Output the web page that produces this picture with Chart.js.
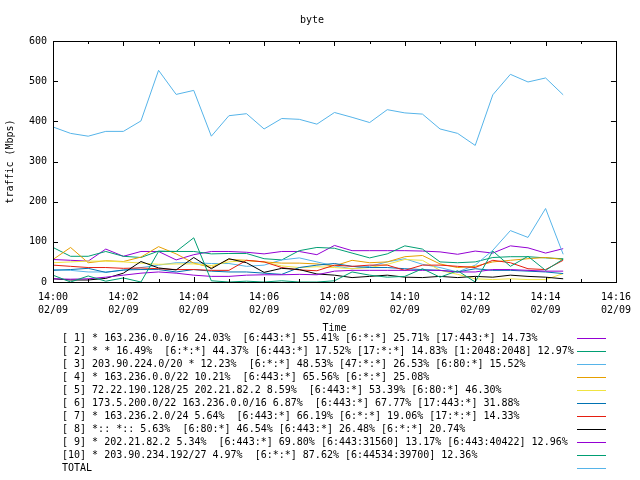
<!DOCTYPE html>
<html>
<head>
<meta charset="utf-8">
<script src="https://cdn.jsdelivr.net/npm/chart.js@4/dist/chart.umd.min.js"></script>
<style>
  html, body { margin: 0; padding: 0; background: #fff; }
</style>
</head>
<body>
<canvas id="chart" width="640" height="480"></canvas>
<script>
// sample times (every 30 s)
const times = ['14:00:00', '14:00:30', '14:01:00', '14:01:30', '14:02:00', '14:02:30',
  '14:03:00', '14:03:30', '14:04:00', '14:04:30', '14:05:00', '14:05:30',
  '14:06:00', '14:06:30', '14:07:00', '14:07:30', '14:08:00', '14:08:30',
  '14:09:00', '14:09:30', '14:10:00', '14:10:30', '14:11:00', '14:11:30',
  '14:12:00', '14:12:30', '14:13:00', '14:13:30', '14:14:00', '14:14:30'];

// traffic in Mbps, one array per series
const s1 = [56, 54, 52, 82, 64, 76, 76, 55, 68, 76, 76, 74, 70, 76, 76, 68, 91, 78, 78, 78, 78, 77, 75, 69, 77, 72, 90, 85, 72, 83];
const s2 = [86, 64, 64, 76, 64, 61, 77, 76, 76, 70, 71, 71, 58, 55, 78, 86, 84, 72, 60, 70, 90, 82, 50, 48, 50, 61, 63, 63, 60, 58];
const s3 = [31, 29, 25, 25, 29, 36, 42, 48, 48, 46, 46, 39, 42, 55, 60, 50, 40, 33, 39, 50, 58, 44, 36, 25, 42, 79, 128, 111, 183, 69];
const s4 = [56, 86, 48, 53, 51, 62, 88, 70, 47, 36, 56, 54, 50, 47, 47, 45, 40, 54, 48, 50, 63, 66, 45, 36, 39, 50, 54, 58, 61, 56];
const s5 = [48, 50, 52, 52, 50, 47, 44, 45, 45, 41, 50, 53, 50, 40, 36, 38, 36, 33, 36, 44, 56, 54, 29, 19, 8, 6, 8, 6, 6, 21];
const s6 = [29, 31, 34, 24, 30, 31, 31, 25, 31, 27, 25, 25, 22, 19, 36, 42, 46, 39, 36, 36, 33, 31, 29, 25, 33, 29, 29, 27, 25, 21];
const s7 = [42, 39, 36, 36, 34, 35, 33, 31, 31, 29, 29, 54, 50, 36, 30, 28, 42, 39, 42, 42, 29, 42, 42, 39, 36, 54, 48, 33, 31, 54];
const s8 = [8, 5, 5, 9, 22, 51, 35, 30, 61, 33, 58, 48, 24, 34, 31, 20, 17, 11, 14, 17, 12, 11, 14, 11, 14, 12, 17, 14, 12, 8];
const s9 = [8, 7, 8, 12, 17, 22, 25, 22, 17, 14, 14, 17, 18, 18, 19, 18, 27, 29, 29, 29, 29, 29, 29, 25, 25, 31, 31, 29, 27, 27];
const s10 = [17, 0, 15, 2, 10, 0, 76, 76, 110, 3, 0, 2, 0, 3, 0, 0, 3, 25, 17, 12, 14, 33, 12, 28, 0, 77, 39, 64, 29, 57];
const total = [386, 370, 363, 375, 375, 401, 527, 467, 477, 363, 414, 419, 381, 407, 405, 393, 422, 410, 397, 429, 421, 418, 381, 370, 340, 466, 517, 498, 508, 466];

const seriesLabels = [
  '[ 1] * 163.236.0.0/16 24.03%  [6:443:*] 55.41% [6:*:*] 25.71% [17:443:*] 14.73%',
  '[ 2] * * 16.49%  [6:*:*] 44.37% [6:443:*] 17.52% [17:*:*] 14.83% [1:2048:2048] 12.97%',
  '[ 3] 203.90.224.0/20 * 12.23%  [6:*:*] 48.53% [47:*:*] 26.53% [6:80:*] 15.52%',
  '[ 4] * 163.236.0.0/22 10.21%  [6:443:*] 65.56% [6:*:*] 25.08%',
  '[ 5] 72.22.190.128/25 202.21.82.2 8.59%  [6:443:*] 53.39% [6:80:*] 46.30%',
  '[ 6] 173.5.200.0/22 163.236.0.0/16 6.87%  [6:443:*] 67.77% [17:443:*] 31.88%',
  '[ 7] * 163.236.2.0/24 5.64%  [6:443:*] 66.19% [6:*:*] 19.06% [17:*:*] 14.33%',
  '[ 8] *:: *:: 5.63%  [6:80:*] 46.54% [6:443:*] 26.48% [6:*:*] 20.74%',
  '[ 9] * 202.21.82.2 5.34%  [6:443:*] 69.80% [6:443:31560] 13.17% [6:443:40422] 12.96%',
  '[10] * 203.90.234.192/27 4.97%  [6:*:*] 87.62% [6:44534:39700] 12.36%',
  'TOTAL'
];
const seriesValues = [s1, s2, s3, s4, s5, s6, s7, s8, s9, s10, total];

// x tick labels, every 2 minutes
const tickLabels = ['14:00', '14:02', '14:04', '14:06', '14:08', '14:10', '14:12', '14:14', '14:16'];
const dateLabel = '02/09';

const colors = ['#9400d3', '#009e73', '#56b4e9', '#e69f00', '#f0e442', '#0072b2',
  '#e51e10', '#000000', '#9400d3', '#009e73', '#56b4e9'];

const FONT = '"DejaVu Sans Mono", monospace';
Chart.defaults.font.family = FONT;
Chart.defaults.font.size = 10;
Chart.defaults.color = '#000';

// minutes since 14:00
const toMin = t => {
  const [h, m, s] = t.split(':').map(Number);
  return (h - 14) * 60 + m + s / 60;
};

const datasets = seriesValues.map((vals, i) => ({
  label: seriesLabels[i],
  data: vals.map((v, j) => ({ x: toMin(times[j]), y: v })),
  borderColor: colors[i],
  borderWidth: 1,
  pointRadius: 0,
  tension: 0,
  fill: false,
  order: seriesValues.length - i
}));

// gnuplot style frame with inward ticks, mirrored
const frameTicks = {
  id: 'frameTicks',
  afterDraw(chart) {
    const { ctx, chartArea: a, scales: { x, y } } = chart;
    ctx.save();
    ctx.strokeStyle = '#000';
    ctx.lineWidth = 1;
    ctx.beginPath();
    x.ticks.forEach(t => {
      const px = Math.round(x.getPixelForValue(t.value)) + 0.5;
      const len = t.value % 2 === 0 ? 5 : 3;
      ctx.moveTo(px, a.bottom); ctx.lineTo(px, a.bottom - len);
      ctx.moveTo(px, a.top); ctx.lineTo(px, a.top + len);
    });
    y.ticks.forEach(t => {
      const py = Math.round(y.getPixelForValue(t.value)) + 0.5;
      ctx.moveTo(a.left, py); ctx.lineTo(a.left + 5, py);
      ctx.moveTo(a.right, py); ctx.lineTo(a.right - 5, py);
    });
    ctx.stroke();
    ctx.strokeRect(Math.round(a.left) + 0.5, Math.round(a.top) + 0.5,
      Math.round(a.right - a.left), Math.round(a.bottom - a.top));
    ctx.restore();
  }
};

// key under the plot: text on the left, line sample on the right
const keyBelow = {
  id: 'keyBelow',
  afterDraw(chart) {
    const { ctx } = chart;
    ctx.save();
    ctx.font = '10px ' + FONT;
    ctx.fillStyle = '#000';
    ctx.textAlign = 'left';
    ctx.textBaseline = 'middle';
    ctx.lineWidth = 1;
    chart.data.datasets.forEach((ds, i) => {
      const yy = 338 + i * 13;
      ctx.fillText(ds.label, 62, yy);
      ctx.strokeStyle = ds.borderColor;
      ctx.beginPath();
      ctx.moveTo(577, yy + 0.5);
      ctx.lineTo(606, yy + 0.5);
      ctx.stroke();
    });
    ctx.restore();
  }
};

new Chart(document.getElementById('chart'), {
  type: 'line',
  data: { datasets },
  options: {
    responsive: false,
    animation: false,
    layout: { padding: { top: 0, left: 0, right: 16, bottom: 144 } },
    plugins: {
      legend: { display: false },
      tooltip: { enabled: false },
      title: {
        display: true,
        text: 'byte',
        color: '#000',
        font: { size: 10, weight: 'normal', lineHeight: 1.2 },
        padding: { top: 14, bottom: 15 }
      }
    },
    scales: {
      x: {
        type: 'linear',
        min: 0,
        max: 16,
        afterFit: s => { s.height = 54; },
        grid: { display: false, drawTicks: false },
        border: { display: false },
        ticks: {
          stepSize: 1,
          autoSkip: false,
          maxRotation: 0,
          padding: 9,
          font: { size: 10, lineHeight: 1.3 },
          callback: v => (v % 2 === 0 ? [tickLabels[v / 2], dateLabel] : '')
        },
        title: {
          display: true,
          text: 'Time',
          font: { size: 10, lineHeight: 1.2 },
          padding: { top: 0, bottom: 2 }
        }
      },
      y: {
        min: 0,
        max: 600,
        afterFit: s => { s.width = 53; },
        grid: { display: false, drawTicks: false },
        border: { display: false },
        ticks: { stepSize: 100, padding: 6 },
        title: {
          display: true,
          text: 'traffic (Mbps)',
          font: { size: 10, lineHeight: 1.2 },
          padding: { top: 4, bottom: 0 }
        }
      }
    }
  },
  plugins: [frameTicks, keyBelow]
});
</script>
</body>
</html>
